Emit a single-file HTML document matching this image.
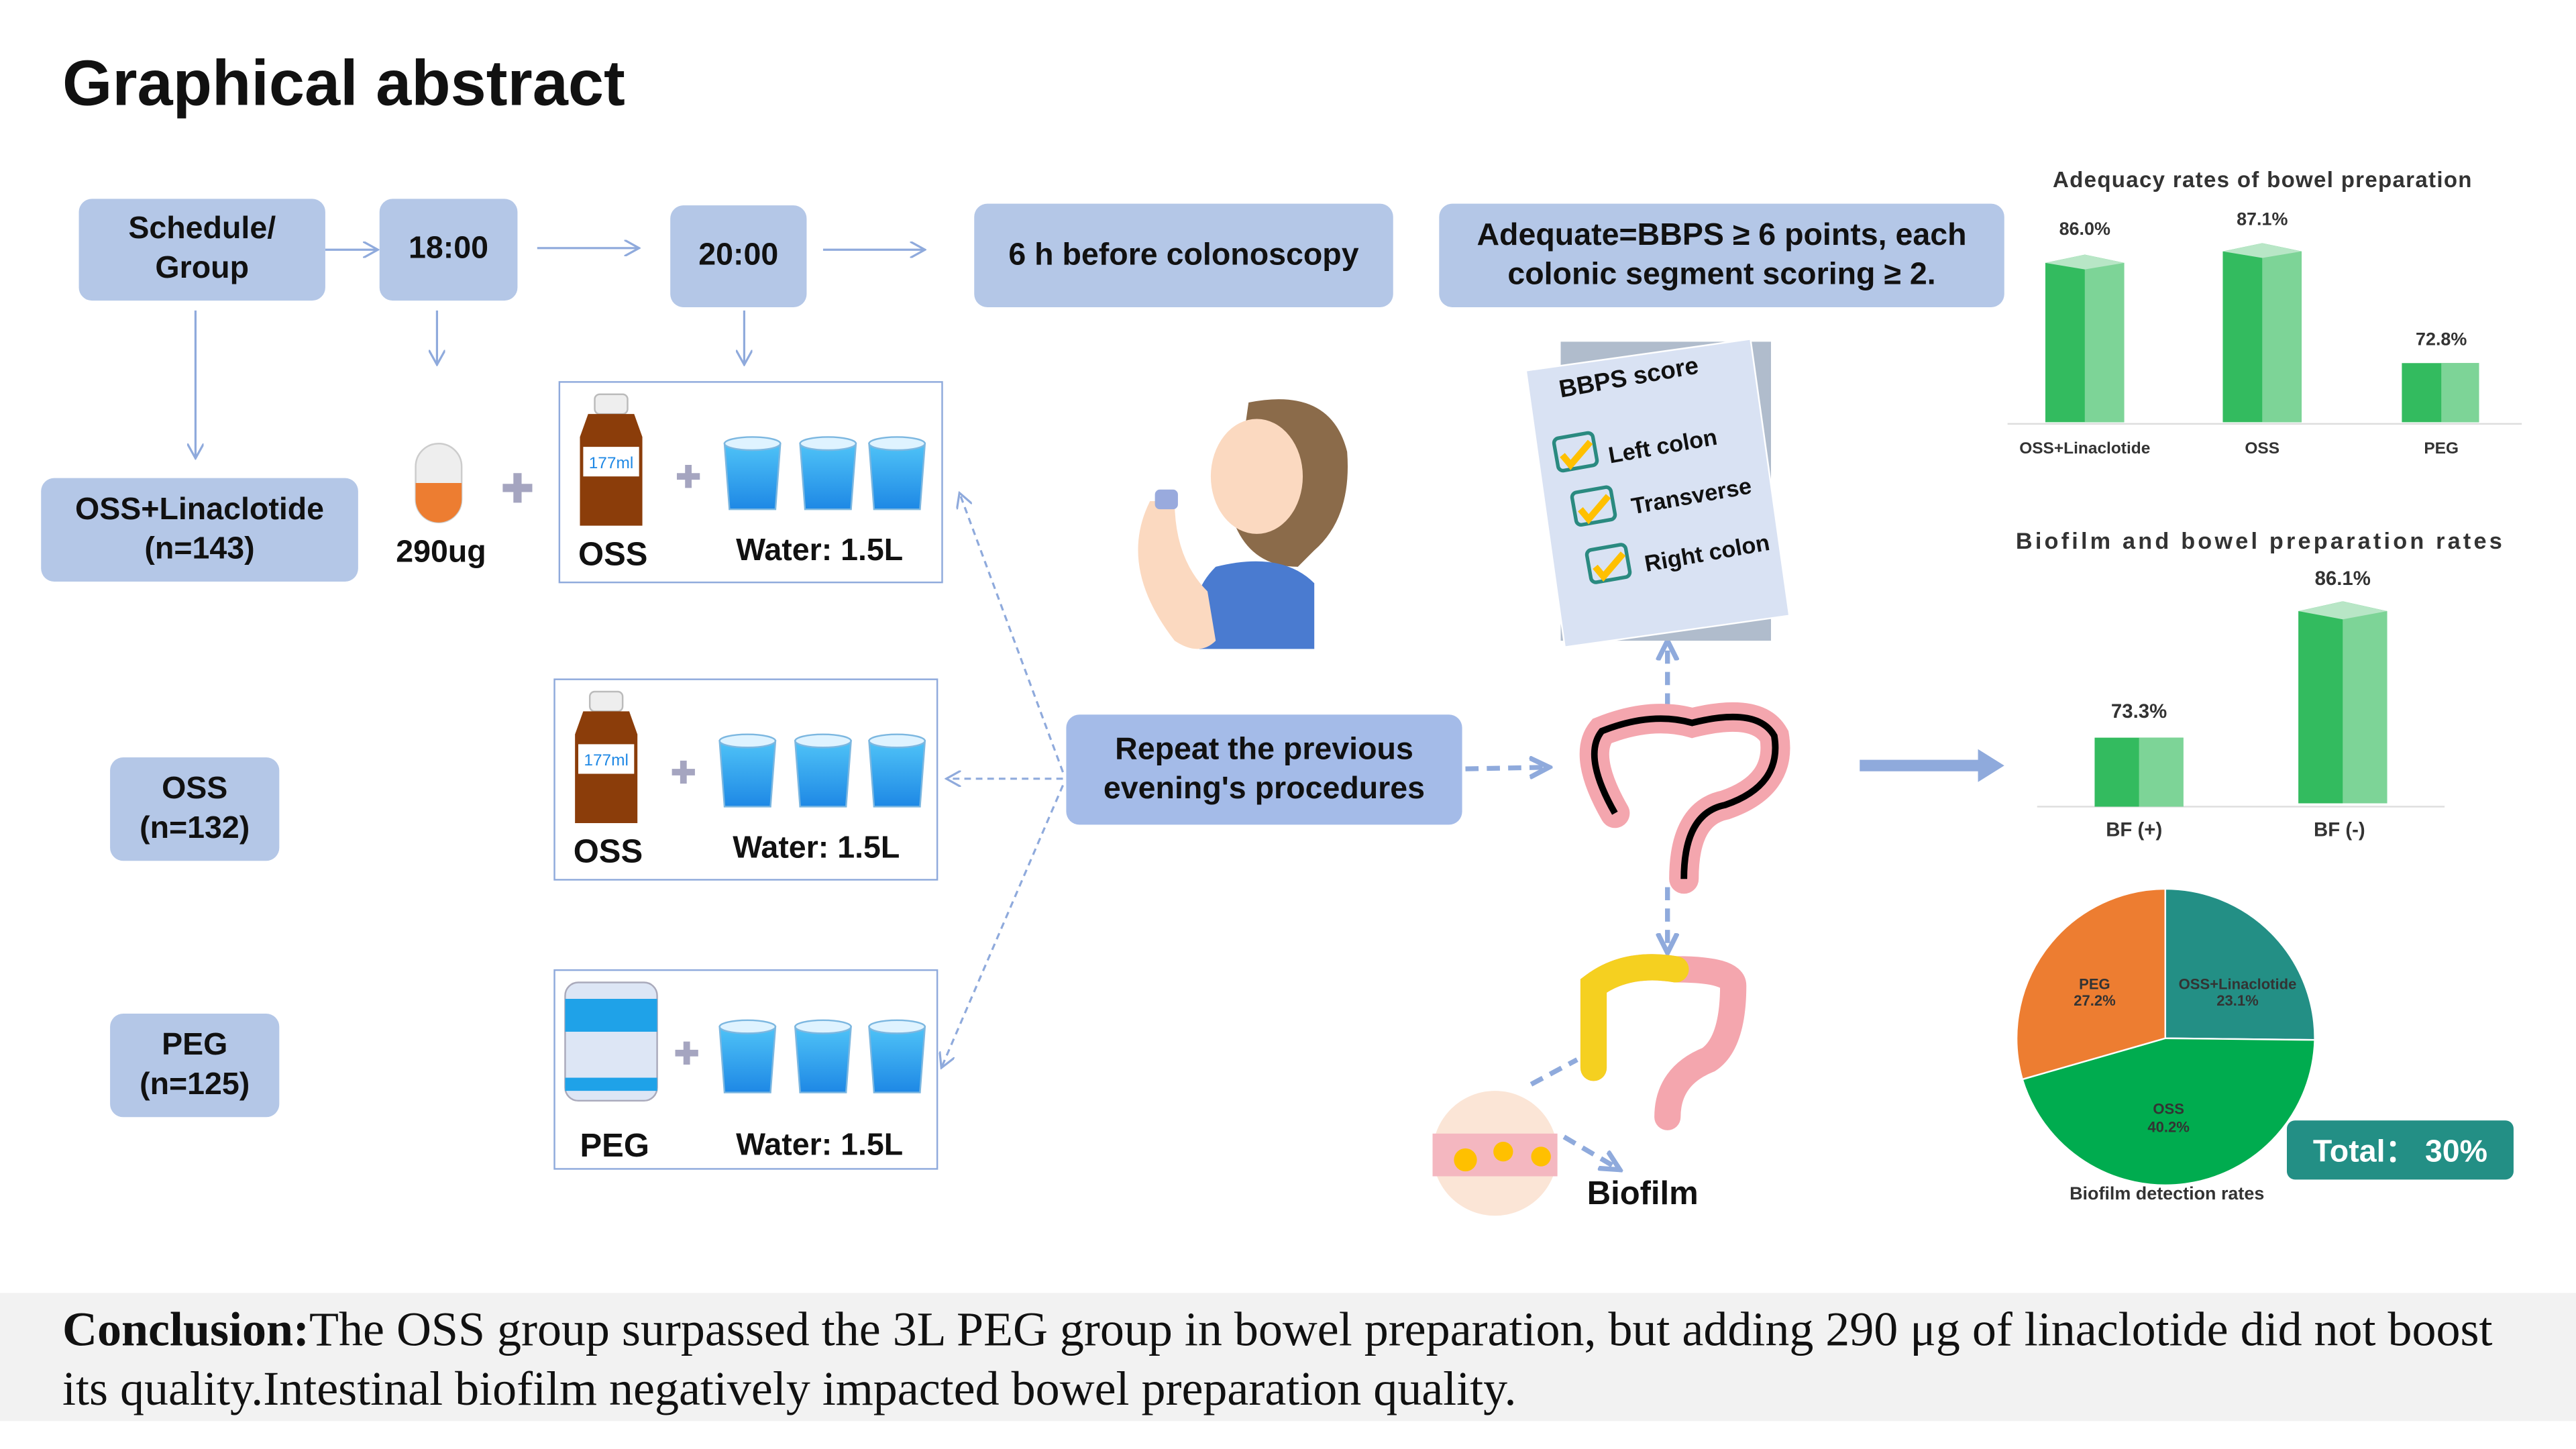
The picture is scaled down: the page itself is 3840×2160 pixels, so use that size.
<!DOCTYPE html>
<html><head><meta charset="utf-8"><style>
html,body{margin:0;padding:0;background:#fff;overflow:hidden}
#w{width:3840px;height:2160px;position:relative;overflow:hidden}
#s{position:absolute;left:0;top:0;width:1568px;height:882px;transform:scale(2.44898);transform-origin:0 0;font-family:"Liberation Sans",Arial,sans-serif}
.b{position:absolute;background:#b4c7e7;border-radius:8px;display:flex;align-items:center;justify-content:center;text-align:center;font-weight:bold;font-size:19px;line-height:24px;color:#111}
.f{position:absolute;border:1.5px solid #8faadc;box-sizing:border-box}
.t{position:absolute;font-weight:bold;color:#111;white-space:nowrap}
</style></head><body><div id="w"><div id="s">
<div class="t" style="left:38px;top:30px;font-size:39px">Graphical abstract</div>

<div class="b" style="left:48px;top:121px;width:150px;height:62px">Schedule/<br>Group</div>
<div class="b" style="left:231px;top:121px;width:84px;height:62px">18:00</div>
<div class="b" style="left:408px;top:125px;width:83px;height:62px">20:00</div>
<div class="b" style="left:593px;top:124px;width:255px;height:63px">6 h before colonoscopy</div>
<div class="b" style="left:876px;top:124px;width:344px;height:63px">Adequate=BBPS ≥ 6 points, each<br>colonic segment scoring ≥ 2.</div>
<div class="b" style="left:25px;top:291px;width:193px;height:63px">OSS+Linaclotide<br>(n=143)</div>
<div class="b" style="left:67px;top:461px;width:103px;height:63px">OSS<br>(n=132)</div>
<div class="b" style="left:67px;top:617px;width:103px;height:63px">PEG<br>(n=125)</div>
<div class="b" style="left:649px;top:435px;width:241px;height:67px;background:#a4bbe8">Repeat the previous<br>evening's procedures</div>

<div class="f" style="left:340px;top:232px;width:234px;height:123px"></div>
<div class="f" style="left:337px;top:413px;width:234px;height:123px"></div>
<div class="f" style="left:337px;top:590px;width:234px;height:122px"></div>

<svg style="position:absolute;left:0;top:0" width="1568" height="882">
<defs>
<marker id="a" markerWidth="10" markerHeight="10" refX="9" refY="5" orient="auto" markerUnits="userSpaceOnUse"><path d="M0,0 L9,5 L0,10" fill="none" stroke="#8faadc" stroke-width="1.3"/></marker>
<marker id="a2" markerWidth="14" markerHeight="14" refX="12" refY="7" orient="auto" markerUnits="userSpaceOnUse"><path d="M0,1 L12,7 L0,13" fill="none" stroke="#8faadc" stroke-width="3"/></marker>
<linearGradient id="cup" x1="0" y1="0" x2="0" y2="1"><stop offset="0" stop-color="#4fc3f7"/><stop offset="1" stop-color="#1e88e5"/></linearGradient>
</defs>
<g stroke="#8faadc" stroke-width="1.3" fill="none">
<line x1="198" y1="152" x2="230" y2="152" marker-end="url(#a)"/>
<line x1="327" y1="151" x2="389" y2="151" marker-end="url(#a)"/>
<line x1="501" y1="152" x2="563" y2="152" marker-end="url(#a)"/>
<line x1="119" y1="189" x2="119" y2="279" marker-end="url(#a)"/>
<line x1="266" y1="189" x2="266" y2="222" marker-end="url(#a)"/>
<line x1="453" y1="189" x2="453" y2="222" marker-end="url(#a)"/>
<g stroke-dasharray="4,3">
<line x1="647" y1="470" x2="584" y2="300" marker-end="url(#a)"/>
<line x1="647" y1="474" x2="576" y2="474" marker-end="url(#a)"/>
<line x1="647" y1="478" x2="573" y2="650" marker-end="url(#a)"/>
</g>
<g stroke-width="3" stroke-dasharray="8,5">
<line x1="892" y1="468" x2="943" y2="467" marker-end="url(#a2)"/>
<line x1="1015" y1="430" x2="1015" y2="390" marker-end="url(#a2)"/>
<line x1="1015" y1="540" x2="1015" y2="580" marker-end="url(#a2)"/>
<line x1="932" y1="660" x2="960" y2="645"/>
<line x1="952" y1="692" x2="986" y2="712" marker-end="url(#a2)"/>
</g>
</g>
<line x1="1132" y1="466" x2="1206" y2="466" stroke="#8faadc" stroke-width="7"/>
<path d="M1204,456 L1220,466 L1204,476Z" fill="#8faadc"/>

<rect x="253" y="270" width="28" height="48" rx="14" fill="#eee" stroke="#ccc"/>
<path d="M253,294 h28 v10 a14,14 0 0 1 -28,0z" fill="#ed7d31"/>
<path d="M306,297 h18 M315,288 v18" stroke="#a5a5c0" stroke-width="5"/>
<g id="bt"><rect x="362" y="240" width="20" height="12" rx="3" fill="#eee" stroke="#bbb"/><path d="M358,252 h28 l5,14 v54 h-38 v-54z" fill="#8b3d0a"/><rect x="355" y="272" width="34" height="18" fill="#fff"/><text x="372" y="285" font-size="10" fill="#1e88e5" text-anchor="middle" font-family="Liberation Sans">177ml</text></g>
<use href="#bt" x="-3" y="181"/>
<path d="M412,290 h14 M419,283 v14 M409,470 h14 M416,463 v14 M411,641 h14 M418,634 v14" stroke="#a5a5c0" stroke-width="4"/>
<g id="cp"><path d="M441,270 h34 l-3,40 h-28z" fill="url(#cup)" stroke="#7cb7e0"/><ellipse cx="458" cy="270" rx="17" ry="4" fill="#dff3ff" stroke="#7cb7e0"/></g>
<use href="#cp" x="46"/><use href="#cp" x="88"/>
<use href="#cp" x="-3" y="181"/><use href="#cp" x="43" y="181"/><use href="#cp" x="88" y="181"/>
<use href="#cp" x="-3" y="355"/><use href="#cp" x="43" y="355"/><use href="#cp" x="88" y="355"/>
<rect x="344" y="598" width="56" height="72" rx="8" fill="#dde6f5" stroke="#aab"/>
<rect x="344" y="608" width="56" height="20" fill="#1fa2e8"/>
<rect x="344" y="656" width="56" height="8" fill="#1fa2e8"/>
<path d="M760,245 q50,-10 60,30 q3,40 -20,60 l-10,10 q-30,0 -40,-30z" fill="#8b6b4a"/>
<ellipse cx="765" cy="290" rx="28" ry="35" fill="#fbd9c0"/>
<path d="M740,345 q40,-10 60,10 v40 h-70 q-10,-30 10,-50z" fill="#4a7bd0"/>
<path d="M700,305 q-20,40 15,85 q15,10 25,0 l-5,-30 q-20,-20 -20,-55z" fill="#fbd9c0"/>
<rect x="703" y="298" width="14" height="12" fill="#9ad" rx="3"/>
<rect x="950" y="208" width="128" height="182" fill="#b0bccc"/>
<g transform="rotate(-8 1010 300)"><rect x="940" y="215" width="138" height="170" fill="#d9e2f3" stroke="#fff"/></g>
<g font-family="Liberation Sans" font-weight="bold" font-size="15" fill="#111">
<text x="950" y="242" transform="rotate(-10 950 242)">BBPS score</text>
<text x="980" y="282" font-size="14" transform="rotate(-10 980 282)">Left colon</text>
<text x="994" y="313" font-size="14" transform="rotate(-10 994 313)">Transverse</text>
<text x="1002" y="348" font-size="14" transform="rotate(-10 1002 348)">Right colon</text>
</g>
<g fill="none" stroke-width="2.2"><rect x="947" y="265" width="24" height="20" stroke="#2a8a80" rx="3" transform="rotate(-10 959 275)"/><rect x="958" y="298" width="24" height="20" stroke="#2a8a80" rx="3" transform="rotate(-10 970 308)"/><rect x="967" y="333" width="24" height="20" stroke="#2a8a80" rx="3" transform="rotate(-10 979 343)"/>
<path d="M951,277 l5,6 l12,-14 M962,310 l5,6 l12,-14 M971,345 l5,6 l12,-14" stroke="#ffc000" stroke-width="4"/></g>
<path d="M983,495 q-20,-35 -8,-50 q30,-12 55,-5 q40,-10 50,8 q5,30 -30,42 q-25,5 -25,45" fill="none" stroke="#f4a6ae" stroke-width="18" stroke-linecap="round"/>
<path d="M983,495 q-20,-35 -8,-50 q30,-12 55,-5 q40,-10 50,8 q5,30 -30,42 q-25,5 -25,45" fill="none" stroke="#000" stroke-width="4"/>
<path d="M970,650 v-50 q20,-15 50,-10 q35,0 35,10 q0,35 -15,45 q-25,10 -25,35" fill="none" stroke="#f4a6ae" stroke-width="16" stroke-linecap="round"/>
<path d="M970,650 v-50 q20,-15 50,-10" fill="none" stroke="#f5d020" stroke-width="16" stroke-linecap="round"/>
<circle cx="910" cy="702" r="38" fill="#fbe5d6"/>
<rect x="872" y="690" width="76" height="26" fill="#f4b7c0"/>
<circle cx="892" cy="706" r="7" fill="#ffc000"/><circle cx="915" cy="701" r="6" fill="#ffc000"/><circle cx="938" cy="704" r="6" fill="#ffc000"/>
<g>
<line x1="1222" y1="258" x2="1535" y2="258" stroke="#ddd"/>
<path d="M1245,160 l24,-5 l24,5 v97 h-48z" fill="#33bb5f"/><path d="M1269,155 l24,5 v97 h-24z" fill="#7dd497"/><path d="M1245,160 l24,-5 l24,5 l-24,4z" fill="#b8e6c6"/>
<path d="M1353,153 l24,-5 l24,5 v104 h-48z" fill="#33bb5f"/><path d="M1377,148 l24,5 v104 h-24z" fill="#7dd497"/><path d="M1353,153 l24,-5 l24,5 l-24,4z" fill="#b8e6c6"/>
<path d="M1462,221 h47 v36 h-47z" fill="#33bb5f"/><path d="M1486,221 h23 v36 h-23z" fill="#7dd497"/>
<line x1="1240" y1="491" x2="1488" y2="491" stroke="#ddd"/>
<path d="M1275,449 h54 v42 h-54z" fill="#33bb5f"/><path d="M1302,449 h27 v42 h-27z" fill="#7dd497"/>
<path d="M1399,372 l27,-6 l27,6 v117 h-54z" fill="#33bb5f"/><path d="M1426,366 l27,6 v117 h-27z" fill="#7dd497"/><path d="M1399,372 l27,-6 l27,6 l-27,5z" fill="#b8e6c6"/>
</g>
<g font-family="Liberation Sans" font-weight="bold" fill="#333" text-anchor="middle">
<text x="1377" y="114" font-size="13.5" textLength="255">Adequacy rates of bowel preparation</text>
<text x="1269" y="143" font-size="11">86.0%</text><text x="1377" y="137" font-size="11">87.1%</text><text x="1486" y="210" font-size="11">72.8%</text>
<text x="1269" y="276" font-size="10">OSS+Linaclotide</text><text x="1377" y="276" font-size="10">OSS</text><text x="1486" y="276" font-size="10">PEG</text>
<text x="1375" y="334" font-size="14" textLength="296">Biofilm and bowel preparation rates</text>
<text x="1426" y="356" font-size="12">86.1%</text><text x="1302" y="437" font-size="12">73.3%</text>
<text x="1299" y="509" font-size="12">BF (+)</text><text x="1424" y="509" font-size="12">BF (-)</text>
</g>
<path d="M1318,632 L1318,541 A91,91 0 0 1 1409,633 Z" fill="#238f85" stroke="#fff"/>
<path d="M1318,632 L1409,633 A91,91 0 0 1 1231,657 Z" fill="#00ac4f" stroke="#fff"/>
<path d="M1318,632 L1231,657 A91,91 0 0 1 1318,541 Z" fill="#ed7d31" stroke="#fff"/>
<g font-family="Liberation Sans" font-weight="bold" fill="#333" text-anchor="middle" font-size="9">
<text x="1275" y="602">PEG</text><text x="1275" y="612">27.2%</text>
<text x="1362" y="602">OSS+Linaclotide</text><text x="1362" y="612">23.1%</text>
<text x="1320" y="678">OSS</text><text x="1320" y="689">40.2%</text>
<text x="1319" y="730" font-size="11">Biofilm detection rates</text>
</g>
<rect x="1392" y="682" width="138" height="36" rx="5" fill="#238f85"/>
<text x="1461" y="707" font-family="Liberation Sans" font-weight="bold" font-size="19" fill="#fff" text-anchor="middle">Total： 30%</text>
</svg>

<div class="t" style="left:241px;top:326px;font-size:19px">290ug</div>
<div class="t" style="left:352px;top:327px;font-size:20px">OSS</div>
<div class="t" style="left:448px;top:325px;font-size:19px">Water:  1.5L</div>
<div class="t" style="left:349px;top:508px;font-size:20px">OSS</div>
<div class="t" style="left:446px;top:506px;font-size:19px">Water:  1.5L</div>
<div class="t" style="left:353px;top:687px;font-size:20px">PEG</div>
<div class="t" style="left:448px;top:687px;font-size:19px">Water:  1.5L</div>
<div class="t" style="left:966px;top:716px;font-size:20px">Biofilm</div>

<div style="position:absolute;left:0;top:787px;width:1568px;height:78px;background:#f2f2f2"></div>
<div style="position:absolute;left:38px;top:792px;width:1500px;font-family:'Liberation Serif',serif;font-size:29.4px;line-height:36px;color:#111"><b>Conclusion:</b>The OSS group surpassed the 3L PEG group in bowel preparation, but adding 290 μg of linaclotide did not boost its quality.Intestinal biofilm negatively impacted bowel preparation quality.</div>
</div></div></body></html>
